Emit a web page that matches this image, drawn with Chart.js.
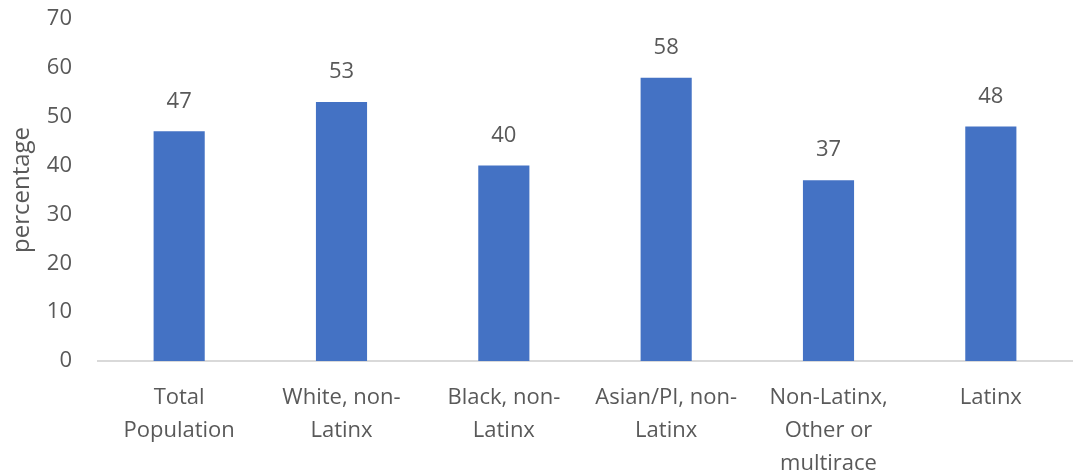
<!DOCTYPE html>
<html>
<head>
<meta charset="utf-8">
<script src="https://cdn.jsdelivr.net/npm/chart.js@4.4.1/dist/chart.umd.min.js"></script>
<style>
  html, body { margin: 0; padding: 0; background: #fff; }
  #wrap { width: 1078px; height: 474px; }
</style>
</head>
<body>
<div id="wrap"><canvas id="chart"></canvas></div>
<script>
const categories = [
  ['Total', 'Population'],
  ['White, non-', 'Latinx'],
  ['Black, non-', 'Latinx'],
  ['Asian/PI, non-', 'Latinx'],
  ['Non-Latinx,', 'Other or', 'multirace'],
  ['Latinx']
];
const percentages = [47, 53, 40, 58, 37, 48];
const yTicks = [0, 10, 20, 30, 40, 50, 60, 70];

const textColor = '#595959';
const fontFamily = '"Open Sans", sans-serif';
const fontSize = 22;

// value labels above each bar
const barLabels = {
  id: 'barLabels',
  afterDatasetsDraw(chart) {
    const ctx = chart.ctx;
    const meta = chart.getDatasetMeta(0);
    ctx.save();
    ctx.fillStyle = textColor;
    ctx.font = fontSize + 'px ' + fontFamily;
    ctx.textAlign = 'center';
    ctx.textBaseline = 'middle';
    meta.data.forEach((bar, i) => {
      ctx.fillText(String(percentages[i]), bar.x, bar.y - 30);
    });
    ctx.restore();
  }
};

new Chart(document.getElementById('chart'), {
  type: 'bar',
  data: {
    labels: categories,
    datasets: [{
      data: percentages,
      backgroundColor: '#4472C4',
      barPercentage: 0.63,
      categoryPercentage: 0.5
    }]
  },
  options: {
    responsive: true,
    maintainAspectRatio: false,
    animation: false,
    layout: { padding: { top: 19, right: 6, left: 0, bottom: 0 } },
    plugins: { legend: { display: false }, tooltip: { enabled: false } },
    scales: {
      x: {
        grid: { display: false, drawTicks: false },
        border: { display: true, color: '#D9D9D9', width: 2 },
        ticks: {
          color: textColor,
          font: { family: fontFamily, size: fontSize, lineHeight: 1.5 },
          padding: 20,
          maxRotation: 0,
          autoSkip: false
        },
        afterFit(scale) { scale.height = 113; }
      },
      y: {
        min: 0,
        max: 70,
        afterBuildTicks(scale) { scale.ticks = yTicks.map(v => ({ value: v })); },
        grid: { display: false, drawTicks: false },
        border: { display: false },
        ticks: {
          color: textColor,
          font: { family: fontFamily, size: fontSize },
          padding: 26
        },
        title: {
          display: true,
          text: 'percentage',
          color: textColor,
          font: { family: fontFamily, size: 24 },
          padding: { top: 8, bottom: 0 }
        },
        afterFit(scale) {
          scale.width = 98;
          scale.paddingTop = 0;
          scale.paddingBottom = 0;
        }
      }
    }
  },
  plugins: [barLabels]
});
</script>
</body>
</html>
